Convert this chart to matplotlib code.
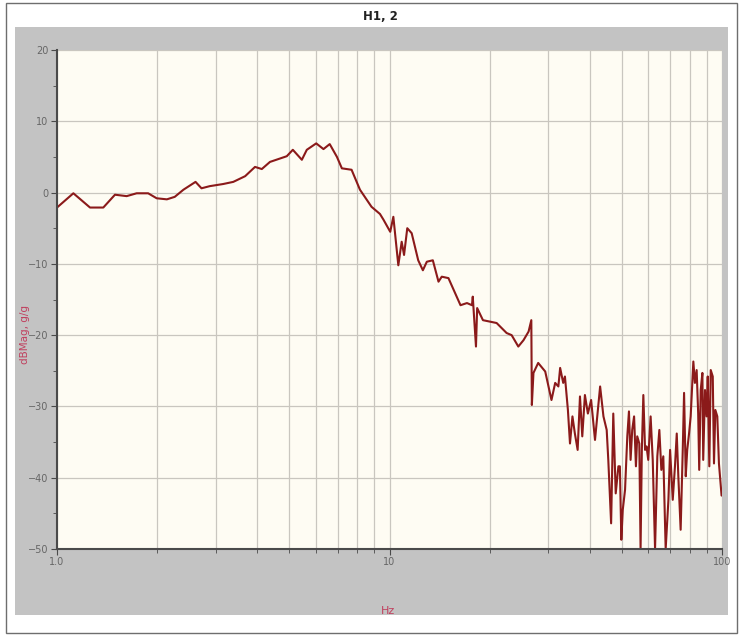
"""Frequency response H1,2 (dB magnitude vs frequency, log x)."""

import matplotlib
matplotlib.use("Agg")
import matplotlib.pyplot as plt
from matplotlib.patches import Rectangle
from matplotlib.ticker import LogLocator, MultipleLocator, FixedLocator, NullFormatter

# Data (Hz, dB)
# 1 - 26 Hz: smooth rise, resonance near 6 Hz, roll-off
freq_low = [
    1.0, 1.12, 1.257, 1.378, 1.494, 1.62, 1.736, 1.88, 1.994, 2.14, 2.26, 2.40,
    2.61, 2.72, 2.88, 3.16, 3.39, 3.68, 3.94, 4.13, 4.37, 4.91, 5.12, 5.45,
    5.64, 6.02, 6.33, 6.61, 6.95, 7.19, 7.69, 8.15, 8.83, 9.36, 9.59, 10.05,
    10.27, 10.63, 10.88, 11.06, 11.31, 11.66, 12.2, 12.6, 12.95, 13.5, 14.04,
    14.36, 15.04, 15.75, 16.35, 17.1, 17.7, 17.8, 18.2, 18.35, 19.1, 21.0,
    22.5, 23.3, 24.4, 25.3, 26.2, 26.7,
]
mag_low = [
    -2.1, -0.1, -2.1, -2.1, -0.3, -0.5, -0.1, -0.1, -0.8, -0.95, -0.6, 0.4,
    1.5, 0.6, 0.9, 1.2, 1.5, 2.3, 3.6, 3.3, 4.3, 5.1, 6.0, 4.6,
    6.0, 6.9, 6.1, 6.8, 5.0, 3.4, 3.2, 0.4, -2.0, -3.0, -3.8, -5.5,
    -3.4, -10.2, -6.9, -8.75, -5.0, -5.7, -9.5, -10.9, -9.7, -9.5, -12.5,
    -11.8, -12.0, -14.1, -15.8, -15.5, -15.8, -14.6, -21.6, -16.2, -17.9, -18.3,
    -19.7, -20.0, -21.6, -20.7, -19.5, -17.9,
]
# 26 - 100 Hz: noisy band
freq_high = [
    26.8, 27.1, 28.0, 29.4, 30.7, 31.5, 32.2, 32.6, 33.3, 33.7, 34.4, 34.9,
    35.5, 36.1, 36.8, 37.4, 38.0, 38.7, 39.5, 40.4, 41.5, 42.5, 43.0, 44.0,
    45.0, 45.5, 46.4, 47.1, 47.9, 48.8, 49.3, 49.8, 50.3, 51.1, 51.9, 52.5,
    53.1, 53.7, 54.4, 55.1, 55.6, 56.4, 56.9, 57.4, 58.0, 58.7, 59.3, 60.0,
    61.0, 61.9, 62.9, 63.9, 64.8, 65.7, 66.6, 67.7, 69.0, 69.8, 71.1, 72.2,
    73.1, 73.9, 75.1, 76.2, 76.9, 77.8, 78.6, 79.6, 80.5, 81.4, 82.0, 82.9,
    83.9, 84.8, 85.4, 86.3, 87.3, 87.8, 88.9, 89.9, 90.6, 91.6, 92.5, 93.8,
    94.6, 95.5, 96.8, 97.9, 99.7, 100.0,
]
mag_high = [
    -29.8, -25.3, -23.9, -25.1, -29.1, -26.7, -27.2, -24.6, -26.7, -25.8, -30.5, -35.2,
    -31.4, -33.8, -36.1, -28.6, -34.2, -28.4, -31.0, -29.1, -34.7, -29.6, -27.2, -31.4,
    -33.3, -37.5, -46.4, -31.0, -42.2, -38.4, -38.4, -48.7, -44.5, -41.7, -34.2, -30.7,
    -37.5, -33.3, -31.4, -38.4, -34.2, -35.2, -50.0, -36.1, -28.4, -36.1, -35.6, -37.5,
    -31.4, -37.5, -50.0, -37.0, -33.3, -38.9, -37.0, -50.0, -43.1, -36.1, -43.1, -38.4,
    -33.8, -39.8, -47.3, -36.1, -28.1, -39.8, -36.1, -33.8, -31.4, -26.7, -23.7, -26.7,
    -24.9, -31.0, -38.9, -27.7, -25.3, -37.5, -27.7, -31.4, -25.8, -38.4, -24.9, -25.8,
    -38.0, -30.5, -31.4, -38.0, -42.5, -42.5,
]

TITLE = "H1, 2"
X_LABEL = "Hz"
Y_LABEL = "dBMag, g/g"

freq_hz = freq_low + freq_high
mag_db = mag_low + mag_high

W, H = 749, 643
fig = plt.figure(figsize=(W / 100, H / 100), dpi=100)
fig.patch.set_facecolor("white")

def box(x0, y0, x1, y1, **kw):
    # rectangle in pixel coords (y measured from top), kept behind the axes
    fig.patches.append(Rectangle((x0 / W, 1 - y1 / H), (x1 - x0) / W, (y1 - y0) / H,
                                 transform=fig.transFigure, zorder=-10, **kw))

box(6, 3, 737, 633, facecolor="white", edgecolor="#6e6e6e", linewidth=1.0)
box(15, 27, 728, 615, facecolor="#c3c3c3", edgecolor="none")

ax = fig.add_axes([57 / W, 1 - 549 / H, 665 / W, 499 / H])
ax.set_facecolor("#fefcf3")

ax.plot(freq_hz, mag_db, color="#8b1a1a", linewidth=1.5)

ax.set_xscale("log")
ax.set_xlim(1, 100)
ax.set_ylim(-50, 20)

ax.xaxis.set_major_locator(FixedLocator([1, 10, 100]))
ax.set_xticklabels(["1.0", "10", "100"])
ax.xaxis.set_minor_locator(LogLocator(base=10, subs=range(2, 10)))
ax.xaxis.set_minor_formatter(NullFormatter())
ax.yaxis.set_major_locator(MultipleLocator(10))
ax.yaxis.set_minor_locator(MultipleLocator(5))

ax.grid(True, which="both", axis="x", color="#c9c6bf", linewidth=0.9)
ax.grid(True, which="major", axis="y", color="#c9c6bf", linewidth=0.9)
ax.set_axisbelow(True)

for s in ["top", "right"]:
    ax.spines[s].set_visible(False)
for s in ["left", "bottom"]:
    ax.spines[s].set_color("#4a4a4a")
    ax.spines[s].set_linewidth(1.5)

ax.tick_params(axis="both", which="both", colors="#4a4a4a", labelcolor="#666666",
               labelsize=7, direction="out", pad=2)
ax.tick_params(which="major", length=4)
ax.tick_params(which="minor", length=3)

fig.text(380 / W, 1 - 16 / H, TITLE, ha="center", va="center",
         fontsize=8.5, fontweight="bold", color="#222222")
fig.text(25 / W, 1 - 335 / H, Y_LABEL, ha="center", va="center", rotation=90,
         fontsize=7.5, color="#c0405e")
fig.text(388 / W, 1 - 611 / H, X_LABEL, ha="center", va="center",
         fontsize=8, color="#c0405e")

fig.savefig("out.png", dpi=100, facecolor=fig.get_facecolor())
